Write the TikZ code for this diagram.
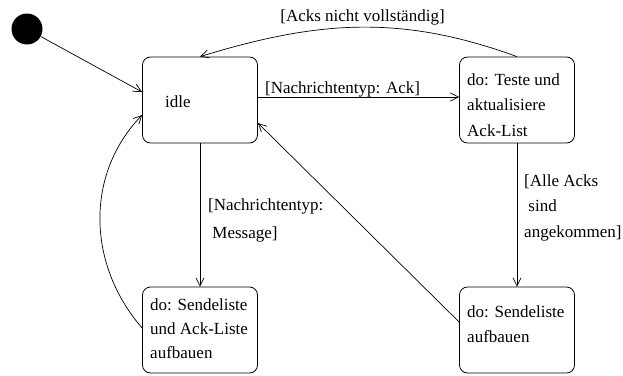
\documentclass[tikz,border=0pt]{standalone}
\usepackage{fontspec}
\setmainfont{Liberation Serif}
\usetikzlibrary{arrows.meta}
\begin{document}
\begin{tikzpicture}[x=1pt,y=-1pt,
  state/.style={draw, rounded corners=8pt, minimum width=115pt, minimum height=86pt,
                inner sep=0pt, line width=0.8pt},
  txt/.style={anchor=base west, align=left, inner sep=0pt,
              font=\fontsize{17}{25.5}\selectfont},
  trans/.style={draw, line width=0.7pt, -{Straight Barb[length=8pt,width=8pt]}},
]
\useasboundingbox (0,0) rectangle (623,375);

% initial pseudo-state
\node[circle, fill=black, minimum size=31pt, inner sep=0pt] (init) at (27,29) {};

% states
\node[state] (idle)    at (200,100) {};
\node[state] (test)    at (517,100) {};
\node[state] (sendack) at (200,330) {};
\node[state] (send)    at (517,330) {};

% state texts (base anchor = baseline of the last line)
\node[txt] (idleT) at (165,107) {idle};
\node[txt] (testT) at (467,136) {do: Teste und\\aktualisiere\\Ack-List};
\node[txt, font=\fontsize{17}{24}\selectfont] (sendackT) at (150,358)
  {do: Sendeliste\\und Ack-Liste\\aufbauen};
\node[txt, font=\fontsize{17}{25}\selectfont] (sendT) at (467,342)
  {do: Sendeliste\\aufbauen};

% guard labels
\node[txt, anchor=base] (lAcks) at (362.5,21) {[Acks nicht vollständig]};
\node[txt] (lAck) at (265,93) {[Nachrichtentyp: Ack]};
\node[txt, font=\fontsize{17}{28}\selectfont] (lMsg) at (208,238)
  {[Nachrichtentyp:\\\ Message]};
\node[txt] (lAlle) at (524,237) {[Alle Acks\\\ sind\\angekommen]};

% transitions
\draw[trans] (init) -- ([yshift=8pt]idle.west);
\draw[trans] (test.north) to[out=160,in=17] (idle.north);
\draw[trans] ([yshift=3pt]idle.east) -- ([yshift=3pt]test.west);
\draw[trans] (idle.south) -- (sendack.north);
\draw[trans] (test.south) -- (send.north);
\draw[trans] ([yshift=8pt]send.west) -- ([yshift=-23pt]idle.east);
\draw[trans] ([yshift=2pt]sendack.west) to[out=131,in=226] ([yshift=-15pt]idle.west);
\end{tikzpicture}
\end{document}
